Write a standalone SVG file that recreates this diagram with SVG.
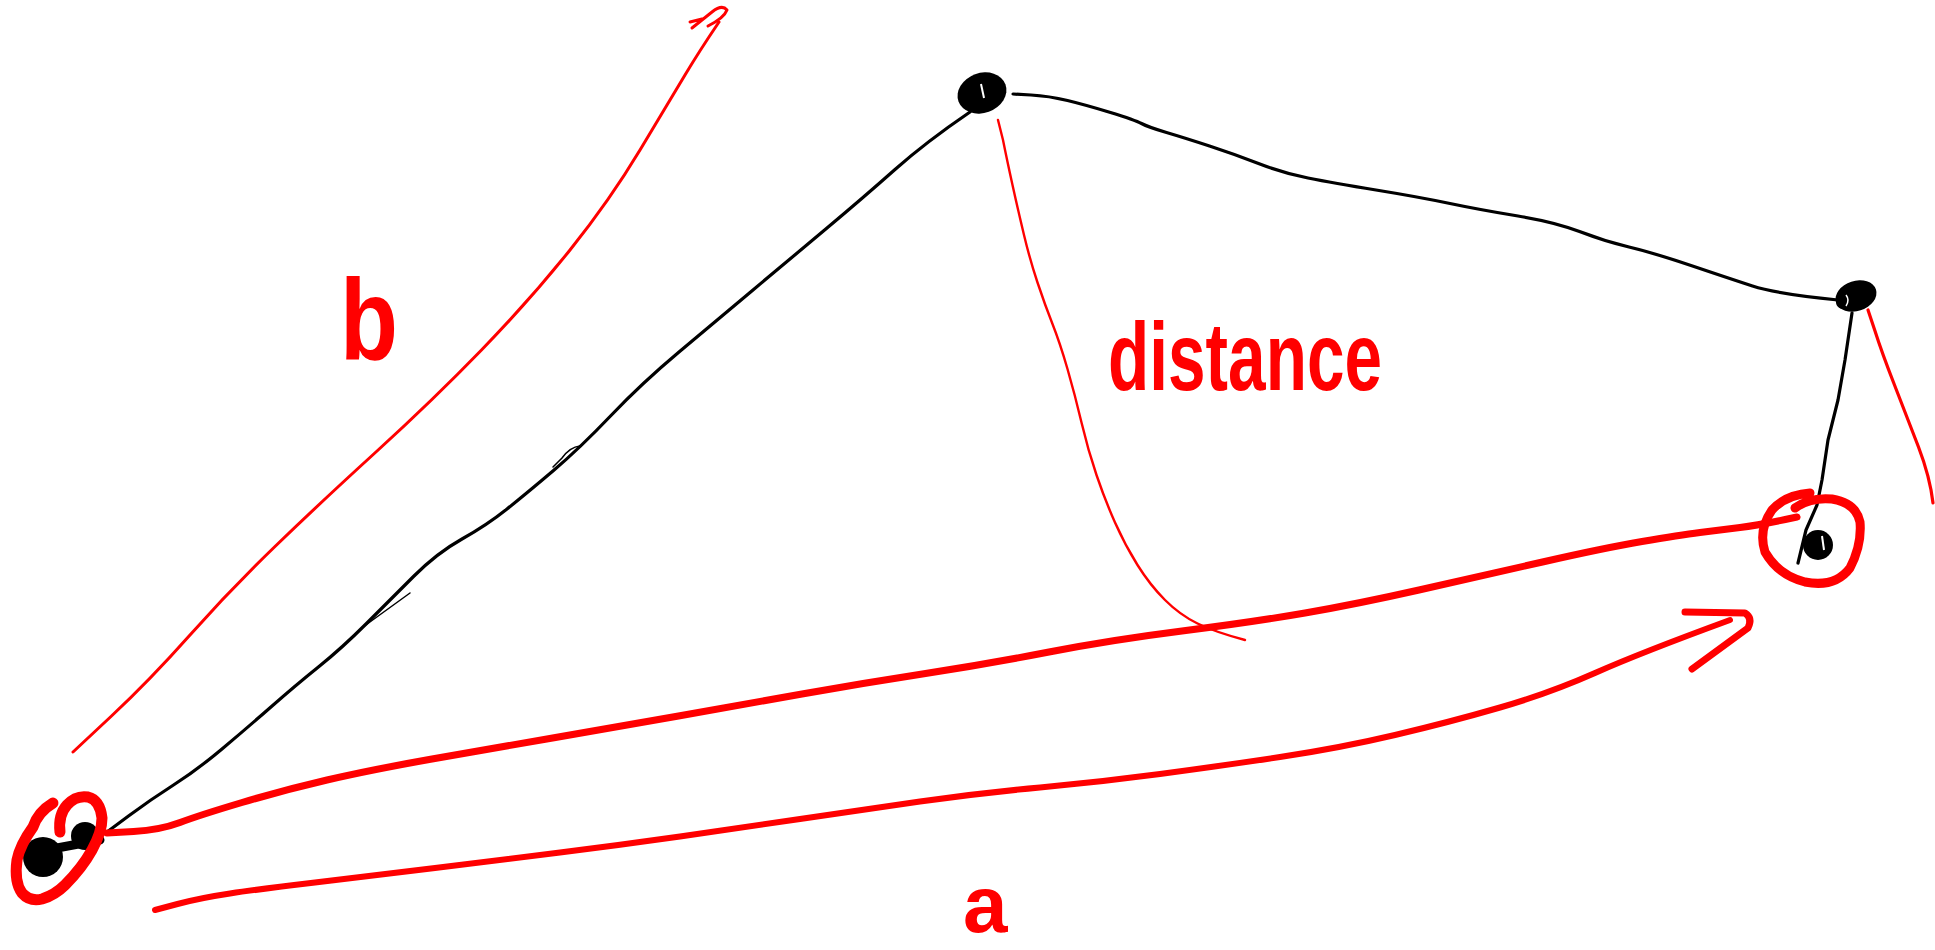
<svg xmlns="http://www.w3.org/2000/svg" width="1935" height="950" viewBox="0 0 1935 950">
<style>
.blk{fill:none;stroke:#000;stroke-width:3.2;stroke-linecap:round;stroke-linejoin:round}
.thin{fill:none;stroke:#000;stroke-width:1.5;stroke-linecap:round}
.red{fill:none;stroke:#ff0000;stroke-linecap:round;stroke-linejoin:round}
.dot{fill:#000}
.lbl{fill:#ff0000;font-family:"Liberation Sans",Arial,sans-serif;font-weight:bold}
</style>
<rect width="1935" height="950" fill="#fff"/>
<g id="connectors">
  <path class="blk" d="M107,832 L128.5,816 Q150,800 173.5,785 Q197,770 222,749 Q247,728 271.5,706.5 Q296,685 319,666.5 Q342,648 366,624 Q390,600 413.5,576.5 Q437,553 462,539 Q487,525 507,509 Q527,493 553.5,470.5 Q580,448 611,415.5 Q642,383 679,352 Q716,321 753,290 Q790,259 827,228 Q864,197 895,169.5 Q926,142 970,112"/>
  <path class="thin" d="M410,593 L363,627"/>
  <path class="thin" d="M580,446 Q570,447 562,458 L553,467"/>
  <path class="blk" d="M1013,94 L1031,95 Q1049,96 1067.5,100.5 Q1086,105 1110.5,112.5 Q1135,120 1141.5,123.5 Q1148,127 1166.5,132.5 Q1185,138 1209.5,146 Q1234,154 1258.5,163.5 Q1283,173 1308,178 Q1333,183 1376,190 Q1419,197 1450,203.5 Q1481,210 1518,216 Q1555,222 1579.5,231.5 Q1604,241 1629,247 Q1654,253 1691,265.5 Q1728,278 1752.5,286 Q1777,294 1838,300"/>
  <path class="red" stroke-width="2.4" d="M998,120 L1003,140 Q1007,160 1012.5,185 Q1018,210 1024,235 Q1030,260 1037.5,282.5 Q1045,305 1052.5,324 Q1060,343 1067.5,369 Q1075,395 1081.5,422.5 Q1088,450 1096.5,475 Q1105,500 1115,522.5 Q1125,545 1137.5,565 Q1150,585 1165,600 Q1180,615 1197.5,623.5 Q1215,632 1245,640"/>
  <path class="red" stroke-width="3.2" d="M1868,310 L1875,331 Q1882,353 1894.5,385 Q1907,417 1918.5,447 Q1930,477 1933,503"/>
  <path class="red" stroke-width="3" d="M73,752 L111.5,716 Q150,680 190,635 Q230,590 275,546.5 Q320,503 376.5,451.5 Q433,400 481.5,350 Q530,300 570,250 Q610,200 640,150 Q670,100 685,75 Q700,50 719,22"/>
  <path class="red" stroke-width="3" d="M692,28 L712,12 Q722,4 727,10 Q724,18 708,26 M690,22 L702,19"/>
  <path class="red" stroke-width="7" d="M107,833 L133.5,831.5 Q160,830 180,822.5 Q200,815 242,802.5 Q284,790 327,780 Q370,770 432,759 Q494,748 555.5,737.5 Q617,727 678.5,716 Q740,705 802,694 Q864,683 925.5,673.5 Q987,664 1049,652 Q1111,640 1182,631 Q1253,622 1305,613 Q1357,604 1419,590 Q1481,576 1542.5,562 Q1604,548 1642,541.5 Q1680,535 1700,532.5 Q1720,530 1740,527.5 Q1760,525 1797,517"/>
  <path class="red" stroke-width="6" d="M155,910 L177.5,904 Q200,898 230,893.5 Q260,889 315,882.5 Q370,876 435,868 Q500,860 560,852.5 Q620,845 680,836.5 Q740,828 800,819 Q860,810 920,801.5 Q980,793 1040,787.5 Q1100,782 1160,774 Q1220,766 1280,757 Q1340,748 1395,735 Q1450,722 1500,707.5 Q1550,693 1595,673 Q1640,653 1730,620"/>
  <path class="red" stroke-width="7" d="M1685,612 L1745,613 Q1753,618 1748,628 L1692,669"/>
  <path class="blk" d="M1852,313 L1845,360 L1838,400 L1828,440 L1822,480 L1817,505 L1806,530 L1798,563"/>
</g>
<g id="node-bottom-left">
  <circle class="dot" cx="43" cy="857" r="20"/>
  <circle class="dot" cx="85" cy="836" r="14"/>
  <path d="M57,848 L100,840" stroke="#000" stroke-width="9" stroke-linecap="round"/>
  <path class="red" stroke-width="11" d="M53,803 Q38,812 33,827 Q20,845 17,860 Q14,882 22,893 Q30,902 42,899 Q55,895 65,885 Q82,868 92,850 Q102,832 102,818 Q100,800 88,797 Q76,795 67,805 Q58,815 60,832"/>
</g>
<g id="node-top">
  <ellipse class="dot" cx="982" cy="93" rx="25" ry="20" transform="rotate(-20 982 93)"/>
  <path d="M981,84 L984,98" stroke="#fff" stroke-width="2"/>
</g>
<g id="node-right">
  <ellipse class="dot" cx="1856" cy="296" rx="21" ry="15" transform="rotate(-18 1856 296)"/>
  <circle class="dot" cx="1843" cy="302" r="7"/>
  <path d="M1846,295 Q1850,300 1846,306" stroke="#fff" stroke-width="1.5" fill="none"/>
</g>
<g id="node-bottom-right">
  <path class="red" stroke-width="9" d="M1810,493 Q1785,495 1772,510 Q1758,530 1765,552 Q1778,575 1805,582 Q1835,588 1850,568 Q1862,545 1860,522 Q1856,503 1832,499 Q1810,497 1795,508"/>
  <circle class="dot" cx="1818" cy="545" r="15"/>
  <path d="M1822,536 L1824,550" stroke="#fff" stroke-width="2"/>
</g>
<g id="labels">
  <text class="lbl" x="340" y="360" font-size="115" textLength="58" lengthAdjust="spacingAndGlyphs">b</text>
  <text class="lbl" x="1108" y="390" font-size="96" textLength="274" lengthAdjust="spacingAndGlyphs">distance</text>
  <text class="lbl" x="963" y="932" font-size="80">a</text>
</g>
</svg>
